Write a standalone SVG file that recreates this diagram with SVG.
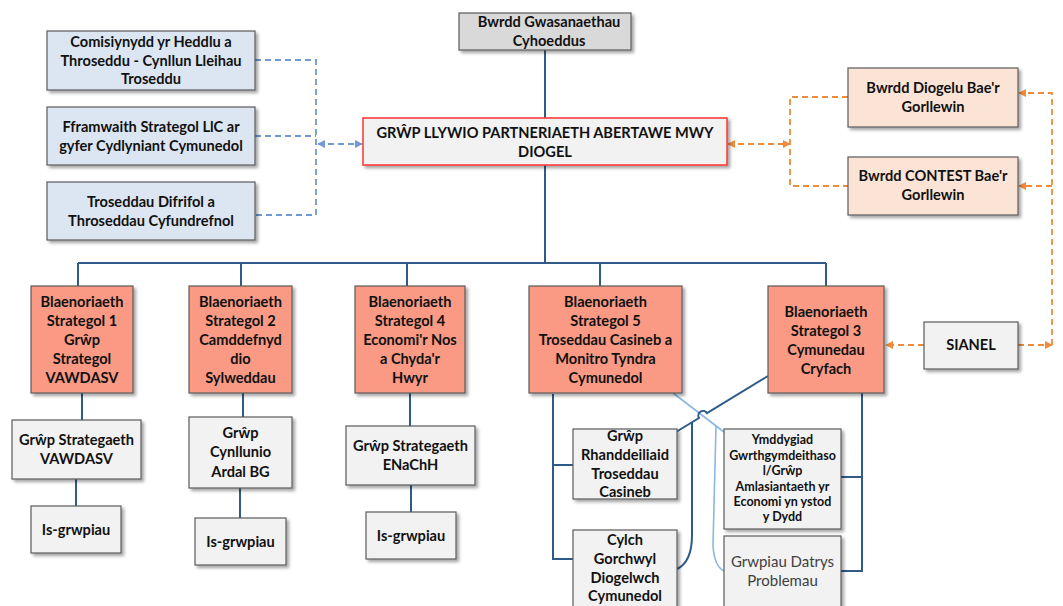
<svg xmlns="http://www.w3.org/2000/svg" width="1063" height="606" viewBox="0 0 1063 606">
<style>
text{font-family:Lato,"Open Sans","Liberation Sans",sans-serif;font-weight:bold;font-size:14.6px;fill:#111;text-anchor:middle}
.sm{font-size:12.5px}
.rg{font-weight:normal;fill:#404040;font-size:15px}
.box{stroke:#5a5a5a;stroke-width:1.2;filter:url(#sh)}
.lb{fill:#dce6f2}.gr{fill:#d9d9d9}.wt{fill:#f2f2f2}.pe{fill:#fbe4d5}.sa{fill:#fa9a84}
.main{fill:#f2f2f2;stroke:#ff3b3b;stroke-width:1.6;filter:url(#sh)}
.dk{fill:none;stroke:#2e5b88;stroke-width:2}
.lt{fill:none;stroke:#8ab7e3;stroke-width:1.6}
.bd{fill:none;stroke:#6f9bd2;stroke-width:1.8;stroke-dasharray:6 4}
.od{fill:none;stroke:#ef8b3a;stroke-width:1.8;stroke-dasharray:6 4}
</style>
<defs>
<filter id="sh" x="-10%" y="-10%" width="130%" height="140%"><feDropShadow dx="2.5" dy="2.5" stdDeviation="1.5" flood-color="#000" flood-opacity="0.35"/></filter>
<marker id="ab" viewBox="0 0 10 10" refX="9" refY="5" markerWidth="8" markerHeight="8" markerUnits="userSpaceOnUse" orient="auto-start-reverse"><path d="M0,0 L10,5 L0,10 z" fill="#6f9bd2"/></marker>
<marker id="ao" viewBox="0 0 10 10" refX="9" refY="5" markerWidth="8" markerHeight="8" markerUnits="userSpaceOnUse" orient="auto-start-reverse"><path d="M0,0 L10,5 L0,10 z" fill="#ef8b3a"/></marker>
</defs>

<g id="connectors">
<path class="dk" d="M545,50 V118 M545,165 V263 M78,263 H826 M78,263 V286 M241,263 V286 M407,263 V286 M600,263 V286 M826,263 V286"/>
<path class="dk" d="M82,393 V420 M76,479 V506 M243,393 V417 M240,488 V518 M410,393 V426 M411,485 V512"/>
<path class="dk" d="M553,394 V559 H573 M553,465 H573 M862,393 V571 H841 M862,477 H841"/>
<path class="lt" d="M673,393 L724,432 M716,426 L713,545 Q714,566 724,571"/>
<path class="dk" d="M768,376 L707,413.2 A4.6,4.6 0 0 0 699,418 L676,432 M692,422.3 L692,535 Q692,562 677,569"/>
<path class="bd" d="M255,60 H316 V215 H255 M255,136 H316"/>
<path class="bd" d="M318,144 H362" marker-start="url(#ab)" marker-end="url(#ab)"/>
<path class="od" d="M728,144 H790" marker-start="url(#ao)" marker-end="url(#ao)"/>
<path class="od" d="M848,97 H790 V186 H848"/>
<path class="od" d="M1018,345 H1052" marker-end="url(#ao)"/>
<path class="od" d="M1052,345 V93 H1019" marker-end="url(#ao)"/>
<path class="od" d="M1052,186 H1019" marker-end="url(#ao)"/>
<path class="od" d="M924,345 H886" marker-end="url(#ao)"/>
</g>

<g id="n-comisiynydd"><rect class="box lb" x="47" y="31" width="208" height="59"/><text x="151" y="47">Comisiynydd yr Heddlu a</text><text x="151" y="65.5">Throseddu - Cynllun Lleihau</text><text x="151" y="84">Troseddu</text></g>
<g id="n-fframwaith"><rect class="box lb" x="47" y="107" width="208" height="58"/><text x="151" y="132">Fframwaith Strategol LlC ar</text><text x="151" y="150.5">gyfer Cydlyniant Cymunedol</text></g>
<g id="n-troseddau"><rect class="box lb" x="47" y="182" width="208" height="58"/><text x="151" y="207">Troseddau Difrifol a</text><text x="151" y="225.5">Throseddau Cyfundrefnol</text></g>

<g id="n-bwrdd"><rect class="box gr" x="459" y="13" width="172" height="37"/><text x="549" y="27">Bwrdd Gwasanaethau</text><text x="549" y="46">Cyhoeddus</text></g>
<g id="n-main"><rect class="main" x="363" y="118" width="364" height="47"/><text x="545" y="138">GRŴP LLYWIO PARTNERIAETH ABERTAWE MWY</text><text x="545" y="157">DIOGEL</text></g>

<g id="n-diogelu"><rect class="box pe" x="848" y="68" width="170" height="59"/><text x="933" y="93">Bwrdd Diogelu Bae'r</text><text x="933" y="112">Gorllewin</text></g>
<g id="n-contest"><rect class="box pe" x="848" y="157" width="170" height="58"/><text x="933" y="181">Bwrdd CONTEST Bae'r</text><text x="933" y="199.5">Gorllewin</text></g>
<g id="n-sianel"><rect class="box wt" x="924" y="322" width="94" height="47"/><text x="971" y="350">SIANEL</text></g>

<g id="n-b1"><rect class="box sa" x="31" y="286" width="102" height="107"/><text x="82" y="307">Blaenoriaeth</text><text x="82" y="326">Strategol 1</text><text x="82" y="345">Grŵp</text><text x="82" y="364">Strategol</text><text x="82" y="383">VAWDASV</text></g>
<g id="n-b2"><rect class="box sa" x="189" y="286" width="103" height="107"/><text x="240.5" y="307">Blaenoriaeth</text><text x="240.5" y="326">Strategol 2</text><text x="240.5" y="345">Camddefnyd</text><text x="240.5" y="364">dio</text><text x="240.5" y="383">Sylweddau</text></g>
<g id="n-b4"><rect class="box sa" x="355" y="286" width="110" height="107"/><text x="410" y="307">Blaenoriaeth</text><text x="410" y="326">Strategol 4</text><text x="410" y="345">Economi'r Nos</text><text x="410" y="364">a Chyda'r</text><text x="410" y="383">Hwyr</text></g>
<g id="n-b5"><rect class="box sa" x="529" y="286" width="153" height="107"/><text x="605.5" y="307">Blaenoriaeth</text><text x="605.5" y="326">Strategol 5</text><text x="605.5" y="345">Troseddau Casineb a</text><text x="605.5" y="364">Monitro Tyndra</text><text x="605.5" y="383">Cymunedol</text></g>
<g id="n-b3"><rect class="box sa" x="768" y="286" width="116" height="107"/><text x="826" y="317">Blaenoriaeth</text><text x="826" y="336">Strategol 3</text><text x="826" y="355">Cymunedau</text><text x="826" y="374">Cryfach</text></g>

<g id="n-vawdasv"><rect class="box wt" x="12" y="420" width="129" height="59"/><text x="76.5" y="445">Grŵp Strategaeth</text><text x="76.5" y="464">VAWDASV</text></g>
<g id="n-is1"><rect class="box wt" x="31" y="506" width="90" height="47"/><text x="76" y="535">Is-grwpiau</text></g>
<g id="n-cynllunio"><rect class="box wt" x="189" y="417" width="103" height="71"/><text x="240.5" y="438">Grŵp</text><text x="240.5" y="457">Cynllunio</text><text x="240.5" y="476.5">Ardal BG</text></g>
<g id="n-is2"><rect class="box wt" x="195" y="518" width="91" height="47"/><text x="240.5" y="547">Is-grwpiau</text></g>
<g id="n-enachh"><rect class="box wt" x="346" y="426" width="129" height="59"/><text x="410.5" y="451">Grŵp Strategaeth</text><text x="410.5" y="470">ENaChH</text></g>
<g id="n-is3"><rect class="box wt" x="366" y="512" width="90" height="47"/><text x="411" y="541">Is-grwpiau</text></g>

<g id="n-rhanddeiliaid"><rect class="box wt" x="573" y="429" width="104" height="70"/><text x="625" y="441">Grŵp</text><text x="625" y="459.5">Rhanddeiliaid</text><text x="625" y="478.5">Troseddau</text><text x="625" y="497">Casineb</text></g>
<g id="n-cylch"><rect class="box wt" x="573" y="530" width="104" height="85"/><text x="625" y="545">Cylch</text><text x="625" y="563.5">Gorchwyl</text><text x="625" y="582.5">Diogelwch</text><text x="625" y="601">Cymunedol</text></g>
<g id="n-ymddygiad"><rect class="box wt" x="724" y="429" width="117" height="100"/><text class="sm" x="782.5" y="444">Ymddygiad</text><text class="sm" x="782.5" y="459.5">Gwrthgymdeithaso</text><text class="sm" x="782.5" y="475">l/Grŵp</text><text class="sm" x="782.5" y="490.5">Amlasiantaeth yr</text><text class="sm" x="782.5" y="506">Economi yn ystod</text><text class="sm" x="782.5" y="521">y Dydd</text></g>
<g id="n-datrys"><rect class="box wt" x="724" y="536" width="117" height="80"/><text class="rg" x="782.5" y="567">Grwpiau Datrys</text><text class="rg" x="782.5" y="585.5">Problemau</text></g>
</svg>
